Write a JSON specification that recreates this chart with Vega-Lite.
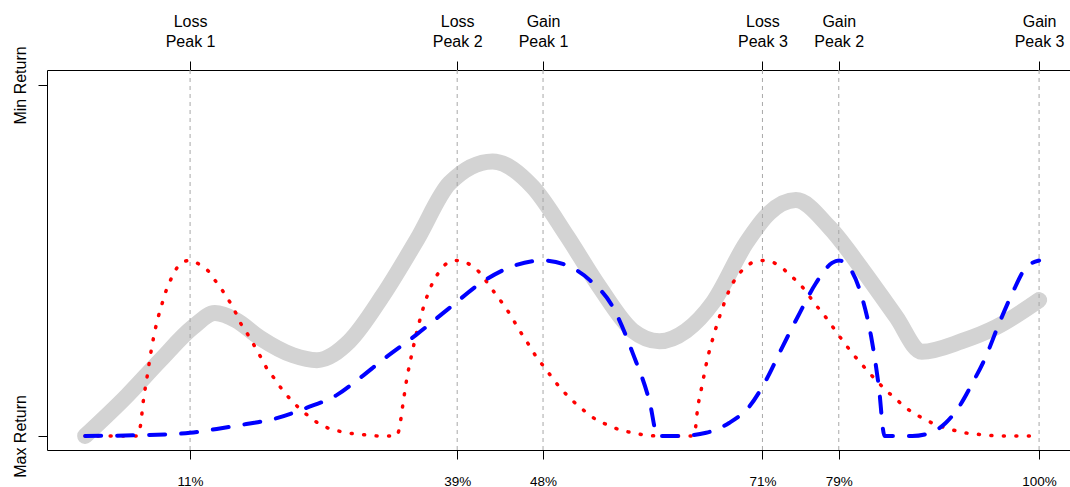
{
  "$schema": "https://vega.github.io/schema/vega-lite/v6.json",
  "autosize": "none",
  "width": 1023,
  "height": 380,
  "padding": {"left": 47, "top": 70, "right": 0, "bottom": 37},
  "background": "white",
  "config": {
    "view": {"stroke": null},
    "font": "Liberation Sans",
    "axis": {
      "labelFont": "Liberation Sans",
      "labelColor": "black",
      "domainColor": "black",
      "tickColor": "black",
      "domainWidth": 1,
      "tickWidth": 1,
      "grid": false
    }
  },
  "datasets": {
    "envelope": [
      {"x": 0, "y": 0}, {"x": 4.4, "y": 0.115}, {"x": 7.85, "y": 0.215}, {"x": 11.3, "y": 0.31},
      {"x": 13.6, "y": 0.35}, {"x": 15.8, "y": 0.33}, {"x": 18.3, "y": 0.28}, {"x": 21.8, "y": 0.23},
      {"x": 24.3, "y": 0.216}, {"x": 27.7, "y": 0.27}, {"x": 31.2, "y": 0.4}, {"x": 34.8, "y": 0.56},
      {"x": 38.2, "y": 0.72}, {"x": 42.7, "y": 0.782}, {"x": 46.9, "y": 0.71}, {"x": 50.5, "y": 0.57},
      {"x": 53.9, "y": 0.425}, {"x": 57.4, "y": 0.3}, {"x": 60.2, "y": 0.27}, {"x": 63, "y": 0.3},
      {"x": 65.8, "y": 0.38}, {"x": 69.3, "y": 0.55}, {"x": 71.7, "y": 0.635}, {"x": 74.5, "y": 0.672},
      {"x": 78, "y": 0.595}, {"x": 81.5, "y": 0.473}, {"x": 85, "y": 0.34}, {"x": 87.7, "y": 0.24},
      {"x": 91.9, "y": 0.27}, {"x": 95.5, "y": 0.31}, {"x": 100, "y": 0.387}
    ],
    "loss": [
      {"x": 0, "y": 0}, {"x": 5.5, "y": 0}, {"x": 5.8, "y": 0.03}, {"x": 6.1, "y": 0.1}, {"x": 6.5, "y": 0.17},
      {"x": 6.9, "y": 0.24}, {"x": 7.4, "y": 0.31}, {"x": 8.1, "y": 0.38}, {"x": 8.5, "y": 0.415},
      {"x": 9, "y": 0.447}, {"x": 9.6, "y": 0.478}, {"x": 10.3, "y": 0.496}, {"x": 11, "y": 0.5},
      {"x": 11.9, "y": 0.49}, {"x": 12.9, "y": 0.47}, {"x": 13.7, "y": 0.44}, {"x": 14.5, "y": 0.41},
      {"x": 15.2, "y": 0.38}, {"x": 15.8, "y": 0.35}, {"x": 16.4, "y": 0.316}, {"x": 17.1, "y": 0.287},
      {"x": 17.8, "y": 0.254}, {"x": 18.4, "y": 0.225}, {"x": 19.1, "y": 0.19}, {"x": 19.8, "y": 0.165},
      {"x": 20.6, "y": 0.134}, {"x": 21.5, "y": 0.105}, {"x": 22.4, "y": 0.08}, {"x": 23.4, "y": 0.057},
      {"x": 24.4, "y": 0.037}, {"x": 25.5, "y": 0.022}, {"x": 26.9, "y": 0.012}, {"x": 28.2, "y": 0.006},
      {"x": 29.4, "y": 0.003}, {"x": 30.8, "y": 0}, {"x": 32.6, "y": 0}, {"x": 32.9, "y": 0.017},
      {"x": 33.3, "y": 0.088}, {"x": 33.7, "y": 0.16}, {"x": 34.2, "y": 0.228}, {"x": 34.8, "y": 0.3},
      {"x": 35.5, "y": 0.37}, {"x": 36.4, "y": 0.435}, {"x": 37.1, "y": 0.467}, {"x": 38, "y": 0.493},
      {"x": 39, "y": 0.5}, {"x": 40.4, "y": 0.487}, {"x": 41.4, "y": 0.464}, {"x": 42.2, "y": 0.435},
      {"x": 43, "y": 0.405}, {"x": 43.8, "y": 0.376}, {"x": 44.5, "y": 0.348}, {"x": 45.2, "y": 0.316},
      {"x": 45.9, "y": 0.285}, {"x": 46.6, "y": 0.256}, {"x": 47.3, "y": 0.225}, {"x": 48.1, "y": 0.197},
      {"x": 48.9, "y": 0.168}, {"x": 49.7, "y": 0.14}, {"x": 50.6, "y": 0.114}, {"x": 51.6, "y": 0.088},
      {"x": 52.6, "y": 0.066}, {"x": 53.6, "y": 0.046}, {"x": 54.8, "y": 0.031}, {"x": 56.1, "y": 0.017},
      {"x": 57.4, "y": 0.009}, {"x": 58.6, "y": 0.003}, {"x": 60, "y": 0}, {"x": 63.6, "y": 0},
      {"x": 63.9, "y": 0.01}, {"x": 64.2, "y": 0.077}, {"x": 64.7, "y": 0.148}, {"x": 65.2, "y": 0.216},
      {"x": 65.9, "y": 0.287}, {"x": 66.7, "y": 0.356}, {"x": 67.6, "y": 0.42}, {"x": 68.3, "y": 0.453},
      {"x": 69.2, "y": 0.48}, {"x": 70.2, "y": 0.497}, {"x": 71, "y": 0.5}, {"x": 72.8, "y": 0.485},
      {"x": 73.8, "y": 0.46}, {"x": 74.8, "y": 0.436}, {"x": 75.6, "y": 0.41}, {"x": 76.4, "y": 0.38},
      {"x": 77.2, "y": 0.353}, {"x": 78, "y": 0.325}, {"x": 78.8, "y": 0.294}, {"x": 79.6, "y": 0.265},
      {"x": 80.4, "y": 0.236}, {"x": 81.3, "y": 0.208}, {"x": 82.1, "y": 0.182}, {"x": 83, "y": 0.157},
      {"x": 83.9, "y": 0.131}, {"x": 84.9, "y": 0.108}, {"x": 85.9, "y": 0.083}, {"x": 87, "y": 0.063},
      {"x": 88.1, "y": 0.046}, {"x": 89.3, "y": 0.031}, {"x": 90.6, "y": 0.02}, {"x": 91.8, "y": 0.011},
      {"x": 93.1, "y": 0.006}, {"x": 94.4, "y": 0.003}, {"x": 95.8, "y": 0}, {"x": 100, "y": 0}
    ],
    "gain": [
      {"x": 0, "y": 0}, {"x": 5.4, "y": 0.002}, {"x": 11, "y": 0.009}, {"x": 13.8, "y": 0.02},
      {"x": 16.9, "y": 0.034}, {"x": 20, "y": 0.05}, {"x": 23.2, "y": 0.08}, {"x": 26.4, "y": 0.117},
      {"x": 28.8, "y": 0.165}, {"x": 31.2, "y": 0.217}, {"x": 34.7, "y": 0.288}, {"x": 38.2, "y": 0.365},
      {"x": 41.7, "y": 0.44}, {"x": 45.2, "y": 0.487}, {"x": 48, "y": 0.5}, {"x": 50.4, "y": 0.487},
      {"x": 52.9, "y": 0.444}, {"x": 55.3, "y": 0.368}, {"x": 57.4, "y": 0.236}, {"x": 59.2, "y": 0.094},
      {"x": 60, "y": 0}, {"x": 62.3, "y": 0}, {"x": 65.1, "y": 0.009}, {"x": 67.5, "y": 0.037},
      {"x": 69.6, "y": 0.083}, {"x": 71.4, "y": 0.16}, {"x": 73.1, "y": 0.254}, {"x": 74.9, "y": 0.35},
      {"x": 76.6, "y": 0.435}, {"x": 78.3, "y": 0.493}, {"x": 79, "y": 0.5}, {"x": 80.1, "y": 0.48},
      {"x": 81.3, "y": 0.407}, {"x": 82.4, "y": 0.282}, {"x": 83.2, "y": 0.14}, {"x": 83.8, "y": 0},
      {"x": 86.7, "y": 0}, {"x": 88.8, "y": 0.011}, {"x": 90.2, "y": 0.037}, {"x": 91.6, "y": 0.083},
      {"x": 93, "y": 0.15}, {"x": 94.4, "y": 0.225}, {"x": 95.8, "y": 0.32}, {"x": 97.2, "y": 0.407},
      {"x": 98.6, "y": 0.479}, {"x": 100, "y": 0.5}
    ],
    "peaks": [
      {"x": 11, "kind": "Loss", "peak": "Peak 1"},
      {"x": 39, "kind": "Loss", "peak": "Peak 2"},
      {"x": 48, "kind": "Gain", "peak": "Peak 1"},
      {"x": 71, "kind": "Loss", "peak": "Peak 3"},
      {"x": 79, "kind": "Gain", "peak": "Peak 2"},
      {"x": 100, "kind": "Gain", "peak": "Peak 3"}
    ]
  },
  "resolve": {"axis": {"x": "independent", "y": "independent"}},
  "layer": [
    {
      "data": {"name": "envelope"},
      "mark": {"type": "line", "color": "#d3d3d3", "strokeWidth": 16, "strokeCap": "round", "strokeJoin": "round", "interpolate": "monotone"},
      "encoding": {
        "x": {"field": "x", "type": "quantitative", "scale": {"domain": [-4, 103.24], "nice": false, "zero": false}, "axis": null},
        "y": {"field": "y", "type": "quantitative", "scale": {"domain": [-0.04, 1.0426], "nice": false, "zero": false},
          "axis": {"orient": "left", "values": [0, 1], "title": null, "labelExpr": "datum.value == 1 ? 'Min Return' : 'Max Return'",
            "labelAngle": 270, "labelAlign": "center", "labelBaseline": "bottom", "labelFontSize": 16, "tickSize": 9, "labelPadding": 10}}
      }
    },
    {
      "data": {"name": "peaks"},
      "mark": {"type": "rule", "color": "#a8a8a8", "strokeWidth": 1, "strokeDash": [4, 4]},
      "encoding": {
        "x": {"field": "x", "type": "quantitative",
          "axis": {"orient": "top", "values": [11, 39, 48, 71, 79, 100], "title": null,
            "labelExpr": "datum.value == 11 ? ['Loss','Peak 1'] : datum.value == 39 ? ['Loss','Peak 2'] : datum.value == 48 ? ['Gain','Peak 1'] : datum.value == 71 ? ['Loss','Peak 3'] : datum.value == 79 ? ['Gain','Peak 2'] : ['Gain','Peak 3']",
            "labelFontSize": 16, "labelLineHeight": 20, "labelBaseline": "bottom", "tickSize": 9, "labelPadding": 32, "labelFlush": false, "labelOverlap": false}}
      }
    },
    {
      "data": {"name": "loss"},
      "mark": {"type": "line", "color": "red", "strokeWidth": 3.5, "strokeDash": [1, 11.5], "strokeCap": "round", "interpolate": "monotone"},
      "encoding": {
        "x": {"field": "x", "type": "quantitative", "axis": null},
        "y": {"field": "y", "type": "quantitative", "axis": null}
      }
    },
    {
      "data": {"name": "gain"},
      "mark": {"type": "line", "color": "blue", "strokeWidth": 4, "strokeDash": [16, 16], "strokeCap": "round", "interpolate": "monotone"},
      "encoding": {
        "x": {"field": "x", "type": "quantitative",
          "axis": {"orient": "bottom", "values": [11, 39, 48, 71, 79, 100], "title": null, "labelExpr": "datum.value + '%'",
            "labelFontSize": 13.5, "tickSize": 9, "labelPadding": 15, "labelFlush": false, "labelOverlap": false}},
        "y": {"field": "y", "type": "quantitative", "axis": null}
      }
    }
  ]
}
